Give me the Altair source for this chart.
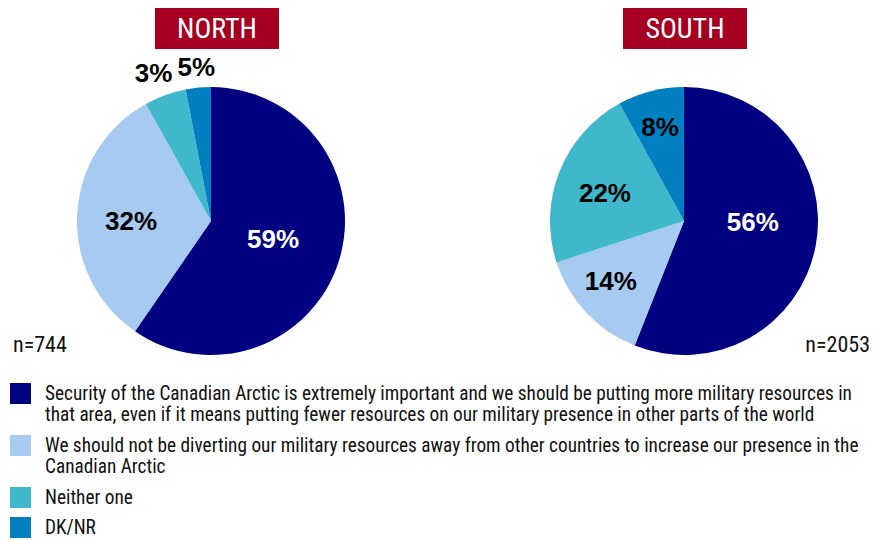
import altair as alt
import pandas as pd

# ---------------- data ----------------
regions = ["NORTH", "SOUTH"]
sample_sizes = ["n=744", "n=2053"]
categories = [
    "Security of the Canadian Arctic is extremely important and we should be putting more military resources in\n"
    "that area, even if it means putting fewer resources on our military presence in other parts of the world",
    "We should not be diverting our military resources away from other countries to increase our presence in the\n"
    "Canadian Arctic",
    "Neither one",
    "DK/NR",
]
north_values = [59, 32, 5, 3]
south_values = [56, 14, 22, 8]
north_labels = ["59%", "32%", "3%", "5%"]
south_labels = ["56%", "14%", "22%", "8%"]

rows = []
for reg, vals, labs in [("NORTH", north_values, north_labels), ("SOUTH", south_values, south_labels)]:
    for i, (c, v, l) in enumerate(zip(categories, vals, labs)):
        rows.append({"region": reg, "cat": c, "idx": i, "value": v, "label": l})
df = pd.DataFrame(rows)

# ---------------- styles / layout ----------------
W, H = 861, 531
R = 134
centers = {"NORTH": (203, 213), "SOUTH": (676, 213)}
colors = ["#000080", "#A6CAF0", "#40B8CC", "#0080C0"]
NARROW = "Liberation Sans Narrow, Arial Narrow, Roboto Condensed, DejaVu Sans Condensed, sans-serif"
BOLD = "Liberation Sans, Arial, Helvetica, sans-serif"
RED = "#A50021"

# per label: radius, color, dx, dy
label_style = {
    ("NORTH", 0): (65, "white", 0, 0),
    ("NORTH", 1): (80, "black", 0, 5),
    ("NORTH", 2): (156, "black", -4, 0),
    ("NORTH", 3): (154, "black", 0, 0),
    ("SOUTH", 0): (70, "white", 0, -11),
    ("SOUTH", 1): (95, "black", -4, -4),
    ("SOUTH", 2): (85, "black", 0, 4),
    ("SOUTH", 3): (96, "black", 0, 0),
}
title_boxes = {"NORTH": (147, 271), "SOUTH": (615, 739)}

legend = alt.Legend(
    orient="none", legendX=2, legendY=375, title=None,
    symbolType="square", symbolSize=441, symbolStrokeWidth=0,
    labelFont=NARROW, labelFontSize=19.3, labelColor="#111111",
    labelOffset=14, labelLimit=2000, rowPadding=9, padding=0,
    labelExpr="split(datum.label, '\\n')",
)

theta = alt.Theta("value:Q", stack="normalize")
order = alt.Order("idx:Q")

layers = []
for reg in regions:
    cx, cy = centers[reg]
    base = alt.Chart(df).transform_filter(alt.datum.region == reg)
    layers.append(
        base.mark_arc(radius=R).encode(
            theta=theta,
            order=order,
            color=alt.Color("cat:N", scale=alt.Scale(domain=categories, range=colors), legend=legend),
            x=alt.value(cx), y=alt.value(cy),
        )
    )
    for i in range(len(categories)):
        r, col, dx, dy = label_style[(reg, i)]
        layers.append(
            base.transform_calculate(t=f"datum.idx == {i} ? datum.label : ''")
            .mark_text(radius=r, color=col, font=BOLD, fontSize=26, fontWeight="bold",
                       dx=dx, dy=dy, align="center", baseline="middle")
            .encode(theta=theta, order=order, text="t:N", x=alt.value(cx), y=alt.value(cy))
        )

# title boxes
tdf = pd.DataFrame({"region": regions})
for reg in regions:
    x0, x1 = title_boxes[reg]
    tb = alt.Chart(tdf).transform_filter(alt.datum.region == reg)
    layers.append(tb.mark_rect(color=RED).encode(
        x=alt.value(x0), x2=alt.value(x1), y=alt.value(0), y2=alt.value(41)))
    layers.append(tb.mark_text(color="white", font=NARROW, fontSize=28, align="center",
                               baseline="middle").encode(
        text="region:N", x=alt.value((x0 + x1) / 2), y=alt.value(22)))

# sample sizes
ndf = pd.DataFrame({"region": regions, "n": sample_sizes})
layers.append(alt.Chart(ndf).transform_filter(alt.datum.region == "NORTH").mark_text(
    font=NARROW, fontSize=22, color="#111111", align="left", baseline="middle").encode(
    text="n:N", x=alt.value(5), y=alt.value(337)))
layers.append(alt.Chart(ndf).transform_filter(alt.datum.region == "SOUTH").mark_text(
    font=NARROW, fontSize=22, color="#111111", align="right", baseline="middle").encode(
    text="n:N", x=alt.value(862), y=alt.value(337)))

chart = alt.layer(*layers).properties(
    width=W, height=H, padding=0,
    autosize=alt.AutoSizeParams(type="none"),
).configure_view(stroke=None)

chart.save("out.html", embed_options={"renderer": "svg", "actions": False})
